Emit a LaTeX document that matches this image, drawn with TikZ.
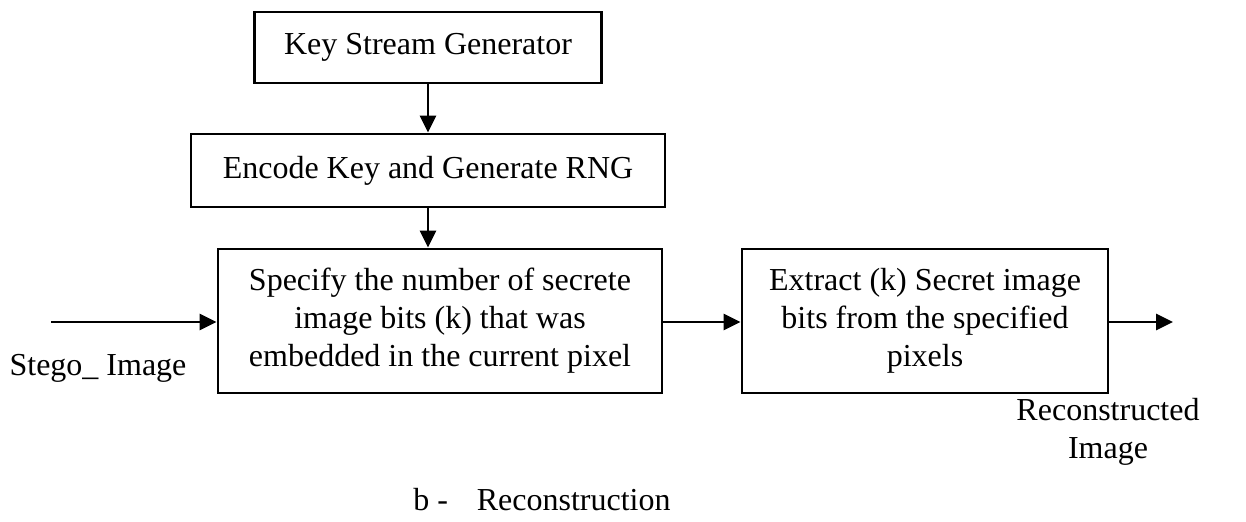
\documentclass[tikz,border=0pt]{standalone}
\usepackage{fontspec}
\setmainfont{Liberation Serif}
\usetikzlibrary{arrows.meta}
\begin{document}
\begin{tikzpicture}[x=0.5pt,y=-0.5pt,
  every node/.style={font=\fontsize{16}{19}\selectfont, inner sep=0pt},
  blk/.style={draw, line width=1.4pt, align=center, anchor=center},
  conn/.style={line width=1.4pt, -{Triangle[length=8.5pt,width=8pt]}}]
\useasboundingbox (0,0) rectangle (1246,521);
\node[blk, minimum width=173.5pt, minimum height=35.5pt] (ksg) at (428,47.5) {Key Stream Generator};
\node[blk, minimum width=237pt, minimum height=36.5pt] (enc) at (428,170.5) {Encode Key and Generate RNG};
\node[blk, minimum width=222pt, minimum height=72pt] (spec) at (440,321) {Specify the number of secrete\\image bits (k) that was\\embedded in the current pixel};
\node[blk, minimum width=183pt, minimum height=72pt] (ext) at (925,321) {Extract (k) Secret image\\bits from the specified\\pixels};
\coordinate (in) at (51,322);
\coordinate (out) at (1173,322);
\node (stego) at (98,368) {Stego\_ Image};
\node[align=center] (rec) at (1108,432) {Reconstructed\\Image};
\node (cap) at (542,500) {b -\hspace{0.9em}Reconstruction};
\draw[conn] (ksg.south) -- (ksg.south |- enc.north);
\draw[conn] (enc.south) -- (enc.south |- spec.north);
\draw[conn] (in) -- (in -| spec.west);
\draw[conn] (spec.east |- in) -- (ext.west |- in);
\draw[conn] (ext.east |- out) -- (out);
\end{tikzpicture}
\end{document}
